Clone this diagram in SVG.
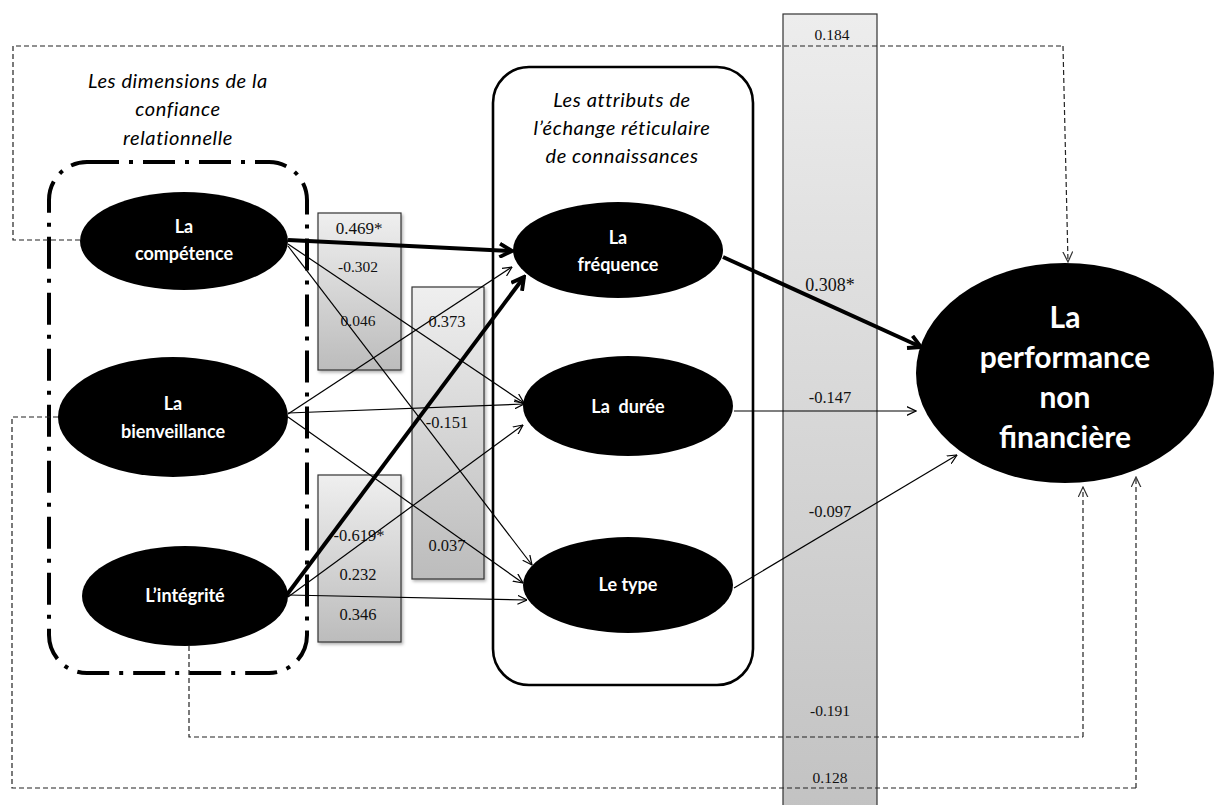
<svg xmlns="http://www.w3.org/2000/svg" width="1217" height="805" viewBox="0 0 1217 805">
<defs>
<linearGradient id="gb" x1="0" y1="0" x2="0" y2="1">
<stop offset="0" stop-color="#efefef"/><stop offset="1" stop-color="#bcbcbc"/>
</linearGradient>
<linearGradient id="gc" x1="0" y1="0" x2="0" y2="1">
<stop offset="0" stop-color="#ededed"/><stop offset="1" stop-color="#c2c2c2"/>
</linearGradient>
<filter id="sh" x="-20%" y="-20%" width="140%" height="140%">
<feDropShadow dx="1.5" dy="2" stdDeviation="1.5" flood-color="#000" flood-opacity="0.3"/>
</filter>
<marker id="ah" viewBox="0 0 10 10" refX="9.5" refY="5" markerWidth="10" markerHeight="10" markerUnits="userSpaceOnUse" orient="auto">
<path d="M0,0.5 L9.5,5 L0,9.5" fill="none" stroke="#000" stroke-width="1.2"/>
</marker>
<marker id="ahk" viewBox="0 0 10 10" refX="8.5" refY="5" markerWidth="16" markerHeight="16" markerUnits="userSpaceOnUse" orient="auto">
<path d="M0.8,0.8 L8.5,5 L0.8,9.2" fill="none" stroke="#000" stroke-width="2.4" stroke-linejoin="miter"/>
</marker>
<marker id="ahd" viewBox="0 0 10 10" refX="9.5" refY="5" markerWidth="11" markerHeight="11" markerUnits="userSpaceOnUse" orient="auto">
<path d="M0,0.5 L9.5,5 L0,9.5" fill="none" stroke="#333" stroke-width="1.1"/>
</marker>
</defs>
<style>
.box{fill:url(#gb);stroke:#333;stroke-width:1.2;filter:url(#sh)}
.col{fill:url(#gc);stroke:#333;stroke-width:1.2}
.num{font-family:"Liberation Serif","DejaVu Serif",serif;fill:#111;text-anchor:middle}
.s14{font-size:15.5px}
.s15{font-size:16.5px}
.s16{font-size:17px}
.s18{font-size:18px}
.el{fill:#000}
.lab{font-family:Lato,"Liberation Sans",sans-serif;font-weight:bold;font-size:18px;fill:#fff;text-anchor:middle}
.big{font-family:Lato,"Liberation Sans",sans-serif;font-weight:bold;font-size:30px;fill:#fff;text-anchor:middle}
.ttl{font-family:Lato,"Liberation Sans",sans-serif;font-style:italic;font-size:20px;letter-spacing:0.6px;fill:#000;text-anchor:middle}
.thin{fill:none;stroke:#000;stroke-width:1.2;marker-end:url(#ah)}
.thick{fill:none;stroke:#000;stroke-width:4;marker-end:url(#ahk)}
.dash{fill:none;stroke:#222;stroke-width:1.2;stroke-dasharray:5 3}
.dasha{fill:none;stroke:#222;stroke-width:1.2;stroke-dasharray:5 3;marker-end:url(#ahd)}
</style>
<rect width="1217" height="805" fill="#fff"/>

<g id="groups">
<rect x="49" y="162" width="258" height="511" rx="38" ry="38" fill="none" stroke="#000" stroke-width="4" stroke-dasharray="32 10 4 10"/>
<text class="ttl" x="178" y="88">Les dimensions de la</text>
<text class="ttl" x="178" y="116">confiance</text>
<text class="ttl" x="178" y="145">relationnelle</text>
<rect x="493" y="67" width="260" height="618" rx="36" ry="36" fill="none" stroke="#000" stroke-width="2.6"/>
<text class="ttl" x="622" y="107">Les attributs de</text>
<text class="ttl" x="622" y="135">l’échange réticulaire</text>
<text class="ttl" x="622" y="163">de connaissances</text>
</g>

<g id="coef-boxes">
<rect class="col" x="783" y="14" width="94" height="800"/>
<rect class="box" x="318" y="213" width="83" height="157"/>
<rect class="box" x="412" y="287" width="72" height="292"/>
<rect class="box" x="318" y="475" width="83" height="167"/>
<text class="num s16" x="359" y="234">0.469*</text>
<text class="num s14" x="358" y="272">-0.302</text>
<text class="num s14" x="358" y="326">0.046</text>
<text class="num s15" x="447" y="327">0.373</text>
<text class="num s15" x="447" y="428">-0.151</text>
<text class="num s15" x="447" y="551">0.037</text>
<text class="num s15" x="359" y="541">-0.619*</text>
<text class="num s15" x="358" y="580">0.232</text>
<text class="num s15" x="358" y="620">0.346</text>
<text class="num s14" x="832" y="40">0.184</text>
<text class="num s18" x="830" y="291">0.308*</text>
<text class="num s15" x="830" y="403">-0.147</text>
<text class="num s15" x="830" y="517">-0.097</text>
<text class="num s14" x="830" y="716">-0.191</text>
<text class="num s14" x="830" y="783">0.128</text>
</g>

<g id="connectors">
<path class="dash" d="M80,240 H13 V46 H1063"/>
<path class="dasha" d="M1063,46 L1068,262"/>
<path class="dash" d="M58,417 H12 V788 H1136"/>
<path class="dasha" d="M1136,788 V477"/>
<path class="dash" d="M189,646 V737 H1083"/>
<path class="dasha" d="M1083,737 V487"/>

<path class="thin" d="M288,244 L524,403"/>
<path class="thin" d="M288,246 L532,565"/>
<path class="thin" d="M288,414 L512,267"/>
<path class="thin" d="M288,413 L524,404"/>
<path class="thin" d="M288,417 L523,583"/>
<path class="thin" d="M288,597 L523,425"/>
<path class="thin" d="M288,595 L527,600"/>
<path class="thin" d="M734,411 L916,411"/>
<path class="thin" d="M734,588 L957,455"/>

<path class="thick" d="M288,240 L512,251"/>
<path class="thick" d="M286,596 L524,277"/>
<path class="thick" d="M723,257 L921,347"/>
</g>

<g id="competence">
<ellipse class="el" cx="184" cy="241" rx="104" ry="49"/>
<text class="lab" x="184" y="233">La</text>
<text class="lab" x="184" y="260">compétence</text>
</g>
<g id="bienveillance">
<ellipse class="el" cx="173" cy="417" rx="115" ry="60"/>
<text class="lab" x="173" y="410">La</text>
<text class="lab" x="173" y="438">bienveillance</text>
</g>
<g id="integrite">
<ellipse class="el" cx="185" cy="596" rx="103" ry="50"/>
<text class="lab" x="185" y="602">L’intégrité</text>
</g>
<g id="frequence">
<ellipse class="el" cx="618" cy="250" rx="105" ry="48"/>
<text class="lab" x="618" y="244">La</text>
<text class="lab" x="618" y="271">fréquence</text>
</g>
<g id="duree">
<ellipse class="el" cx="628" cy="406" rx="105" ry="50"/>
<text class="lab" x="628" y="413" xml:space="preserve">La  durée</text>
</g>
<g id="type">
<ellipse class="el" cx="628" cy="585" rx="105" ry="48"/>
<text class="lab" x="628" y="591">Le type</text>
</g>
<g id="performance">
<ellipse class="el" cx="1065" cy="373" rx="149" ry="110"/>
<text class="big" x="1065" y="328">La</text>
<text class="big" x="1065" y="368">performance</text>
<text class="big" x="1065" y="408">non</text>
<text class="big" x="1065" y="448">financière</text>
</g>
</svg>
